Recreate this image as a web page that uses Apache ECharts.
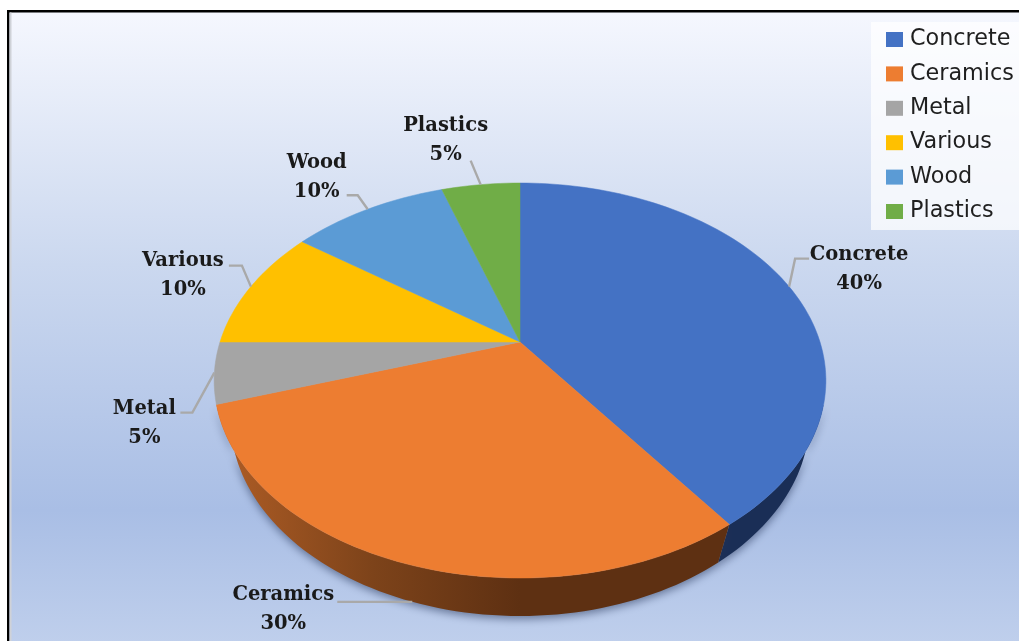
<!DOCTYPE html>
<html><head><meta charset="utf-8">
<style>html,body{margin:0;padding:0;background:#fff}#c{width:1019px;height:641px}</style>
<script src="https://cdn.jsdelivr.net/npm/echarts@6/dist/echarts.min.js"></script>
</head><body><div id="c"></div>
<script>
const categories = ['Concrete','Ceramics','Metal','Various','Wood','Plastics'];
const shares = [40,30,5,10,10,5];
const colors = ['#4472c4','#ed7d31','#a5a5a5','#ffc000','#5b9bd5','#70ad47'];
// label placement relative to the rim anchor: [label dx, label dy, elbow dx, elbow dy, tail dx]
const labelOffsets = [
  [70,-17,6,-28,14],
  [-129,8,-1,0,-74],
  [-70,51,-22,40,-12],
  [-68,-11,-9,-21,-13],
  [-51,-32,-10,-14,-11],
  [-35,-44,-10,-24,0]
];
// projection of the tilted disc
const P = {cx:520, top:342, floor:380, rTop:300, rFloor:284, s:190, k:0.195};
const wallRange = [108,252];
function project(deg, r, cy){
  const a = deg*Math.PI/180, u = Math.sin(a), v = -Math.cos(a), w = 1-P.k*v;
  return [P.cx + r*u/w, cy + P.s*v/w];
}
function arc(a0,a1,r,cy){
  const n = Math.max(2,Math.ceil((a1-a0)/1.5)), pts=[];
  for(let i=0;i<=n;i++) pts.push(project(a0+(a1-a0)*i/n,r,cy));
  return pts;
}
const total = shares.reduce((a,b)=>a+b,0);
const wallFill = [
  '#1a2e56',
  {type:'linear',global:true,x:225,y:0,x2:520,y2:0,colorStops:[
    {offset:0,color:'#ad5c25'},{offset:0.5,color:'#7d431a'},{offset:1,color:'#5e3012'}]},
  '#636363','#997300','#2e75b6','#43682b'
];
function render(idx){
  return function(params, api){
    const before = shares.slice(0,idx).reduce((a,b)=>a+b,0);
    const a0 = before/total*360, a1 = (before+api.value(0))/total*360, mid=(a0+a1)/2;
    const top = arc(a0,a1,P.rTop,P.top);
    const color = api.visual('color');
    const children = [];
    const w0 = Math.max(a0,wallRange[0]), w1 = Math.min(a1,wallRange[1]);
    if(w1>w0){
      const wt = arc(w0,w1,P.rTop,P.top), wf = arc(w0,w1,P.rFloor,P.floor);
      children.push({type:'polygon',z2:1,shape:{points:wt.concat(wf.slice().reverse())},
        style:{fill:wallFill[idx],stroke:null,
          shadowBlur:9,shadowOffsetX:0,shadowOffsetY:3,shadowColor:'rgba(35,50,85,0.55)'}});
    }
    children.push({type:'polygon',z2:5,shape:{points:[[P.cx,P.top]].concat(top)},
      style:{fill:color,stroke:color,lineWidth:0.5}});
    const anchor = idx===1 ? project(mid,P.rFloor,P.floor) : project(mid,P.rTop,P.top);
    const o = labelOffsets[idx];
    const elbow = [anchor[0]+o[2],anchor[1]+o[3]];
    const pts = [anchor,elbow];
    if(o[4]!==0) pts.push([elbow[0]+o[4],elbow[1]]);
    children.push({type:'polyline',z2:8,shape:{points:pts},style:{fill:null,stroke:'#a9a9a9',lineWidth:2.4}});
    children.push({type:'text',z2:9,style:{
      text:categories[idx]+'\n'+api.value(0)+'%',x:anchor[0]+o[0],y:anchor[1]+o[1],
      align:'center',verticalAlign:'middle',
      fontFamily:'DejaVu Serif',fontWeight:'bold',fontSize:19.5,lineHeight:29,fill:'#1a1a1a'}});
    return {type:'group',children};
  };
}
const chart = echarts.init(document.getElementById('c'),null,{renderer:'canvas'});
chart.setOption({
  animation:false,
  backgroundColor:'#ffffff',
  legend:{
    orient:'vertical',left:871,top:22,
    padding:[4.5,20,5.5,15],backgroundColor:'rgba(255,255,255,0.72)',
    itemWidth:17,itemHeight:15,itemGap:8.4,selectedMode:false,icon:'rect',
    data:categories,
    textStyle:{fontFamily:'DejaVu Sans',fontSize:22.3,color:'#1f1f1f',padding:[0,0,0,2],lineHeight:26}
  },
  graphic:[
    {type:'rect',z:-1,silent:true,shape:{x:9,y:12,width:1012,height:631},
      style:{fill:{type:'linear',x:0,y:0,x2:0,y2:1,colorStops:[
        {offset:0,color:'#f5f7fe'},{offset:0.4,color:'#cbd8ef'},
        {offset:0.79,color:'#a9bee5'},{offset:1,color:'#bfcfec'}]}}},
    {type:'rect',z:-1,silent:true,shape:{x:7,y:10,width:1014,height:2.5},style:{fill:'#000'}},
    {type:'rect',z:-1,silent:true,shape:{x:7,y:10,width:2.5,height:633},style:{fill:'#000'}},
    {type:'rect',z:-1,silent:true,shape:{x:9.5,y:12.5,width:2,height:631},style:{fill:'#cfd2d8'}}
  ],
  series:categories.map((name,i)=>({
    type:'custom',name,coordinateSystem:'none',silent:true,clip:false,
    itemStyle:{color:colors[i]},
    renderItem:render(i),
    data:[[shares[i]]]
  }))
});
</script></body></html>
